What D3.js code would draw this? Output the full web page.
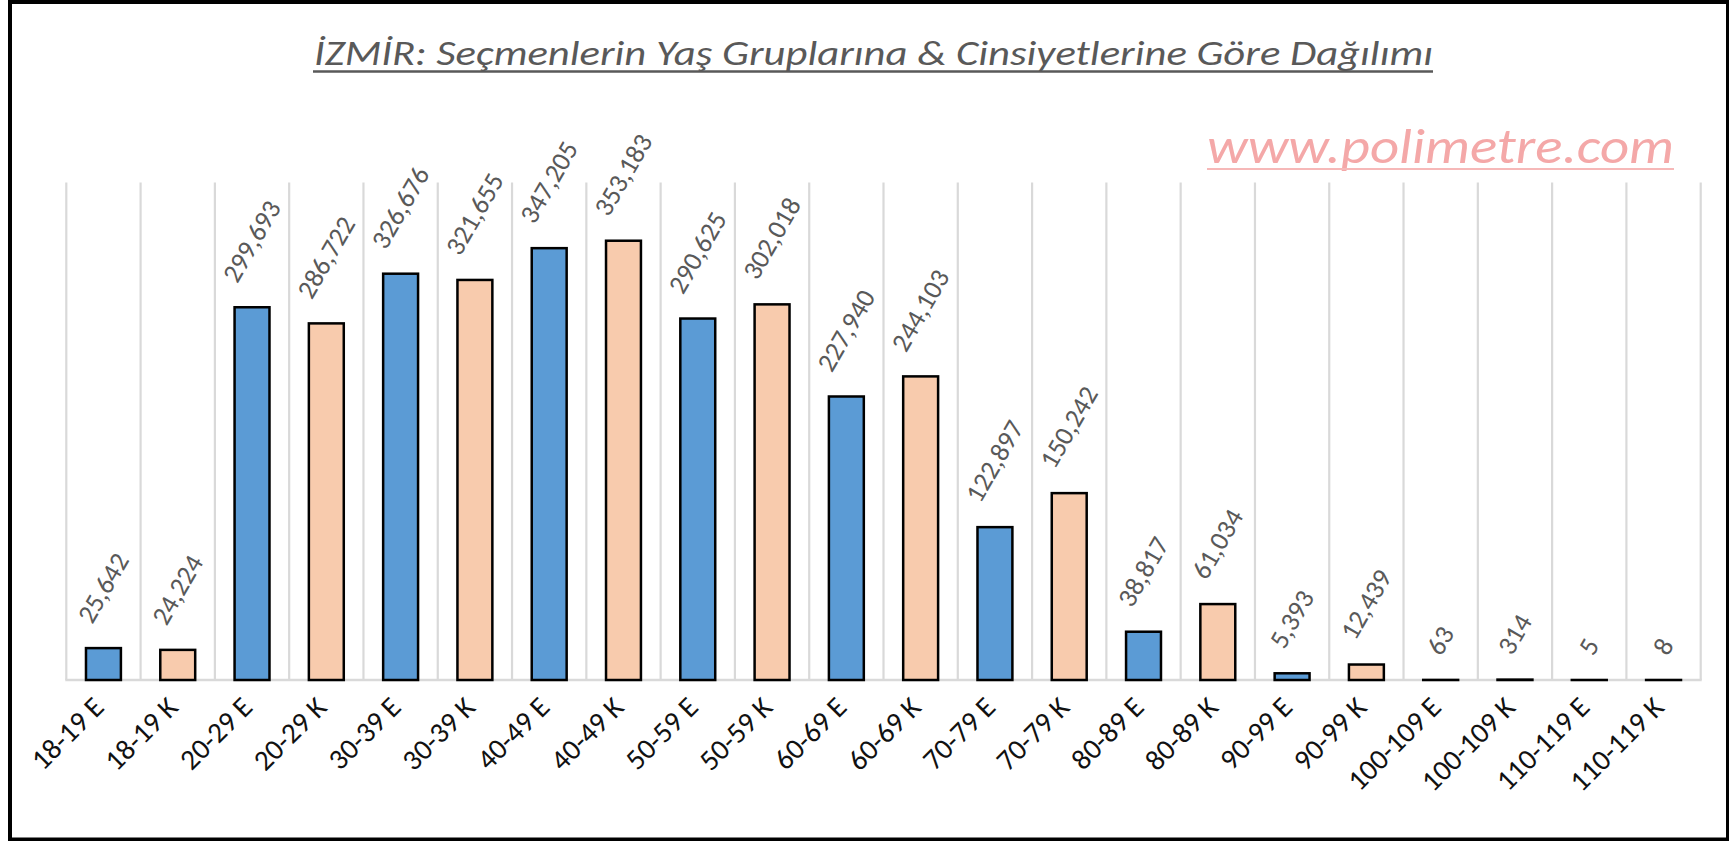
<!DOCTYPE html>
<html>
<head>
<meta charset="utf-8">
<script src="https://cdn.jsdelivr.net/npm/d3@7"></script>
<style>
  html, body { margin: 0; padding: 0; background: #fff; }
  svg { display: block; }
  text { font-family: Carlito, Calibri, "Open Sans", sans-serif; }
</style>
</head>
<body>
<script>
const categories = ["18-19 E","18-19 K","20-29 E","20-29 K","30-39 E","30-39 K","40-49 E","40-49 K","50-59 E","50-59 K","60-69 E","60-69 K","70-79 E","70-79 K","80-89 E","80-89 K","90-99 E","90-99 K","100-109 E","100-109 K","110-119 E","110-119 K"];
const values = [25642,24224,299693,286722,326676,321655,347205,353183,290625,302018,227940,244103,122897,150242,38817,61034,5393,12439,63,314,5,8];
const genderColors = { "E": "#5B9BD5", "K": "#F8CBAD" };
const yDomain = [0, 400000];
const titleText = "İZMİR: Seçmenlerin Yaş Gruplarına & Cinsiyetlerine Göre Dağılımı";
const watermarkText = "www.polimetre.com";

const W = 1729, H = 841;
const svg = d3.select("body").append("svg").attr("width", W).attr("height", H);
svg.append("rect").attr("width", W).attr("height", H).attr("fill", "#fff");

const x = d3.scaleBand().domain(categories).range([66.3, 1700.7]).paddingInner(0.53).paddingOuter(0.265);
const y = d3.scaleLinear().domain(yDomain).range([680, 182.5]);
const baseY = y(0);

// vertical gridlines at category boundaries
const boundaries = categories.map(c => x(c) + x.bandwidth() / 2 - x.step() / 2);
boundaries.push(boundaries[boundaries.length - 1] + x.step());
svg.append("g").selectAll("line").data(boundaries).join("line")
  .attr("x1", d => d).attr("x2", d => d)
  .attr("y1", y(yDomain[1])).attr("y2", baseY)
  .attr("stroke", "#d9d9d9").attr("stroke-width", 2.2);

// baseline
svg.append("line").attr("x1", boundaries[0] - 1).attr("x2", boundaries[boundaries.length - 1] + 1)
  .attr("y1", baseY).attr("y2", baseY).attr("stroke", "#d9d9d9").attr("stroke-width", 2.5);

const data = categories.map((c, i) => ({ c, v: values[i], g: c.trim().slice(-1) }));

// bars
svg.append("g").selectAll("rect").data(data).join("rect")
  .attr("x", d => x(d.c)).attr("width", x.bandwidth())
  .attr("y", d => y(d.v)).attr("height", d => Math.max(0.01, baseY - y(d.v)))
  .attr("fill", d => genderColors[d.g]).attr("stroke", "#000").attr("stroke-width", 2.5);

// value labels
const fmt = d3.format(",");
const vfs = 27;
const cap = 0.644 * vfs;
svg.append("g").selectAll("text").data(data).join("text")
  .attr("font-size", vfs).attr("fill", "#595959").attr("text-anchor", "start")
  .text(d => fmt(d.v))
  .each(function(d) {
    const L = this.getComputedTextLength();
    const cx = x(d.c) + x.bandwidth() / 2;
    const ax = cx - L / 4 + 0.433 * cap;
    const ay = y(d.v) - 23;
    d3.select(this).attr("transform", `translate(${ax},${ay}) rotate(-60)`);
  });

// axis labels
const afs = 29;
svg.append("g").selectAll("text").data(data).join("text")
  .attr("font-size", afs).attr("fill", "#111").attr("text-anchor", "end")
  .attr("transform", d => `translate(${x(d.c) + x.bandwidth() / 2 + 2},709) rotate(-45)`)
  .text(d => d.c);

// title
svg.append("text").attr("x", 873.5).attr("y", 65).attr("text-anchor", "middle")
  .attr("font-size", 34).attr("font-style", "italic").attr("fill", "#595959")
  .attr("textLength", 1119).attr("lengthAdjust", "spacingAndGlyphs")
  .text(titleText);
svg.append("line").attr("x1", 313).attr("x2", 1433).attr("y1", 71.5).attr("y2", 71.5)
  .attr("stroke", "#595959").attr("stroke-width", 2.7);

// watermark
svg.append("text").attr("x", 1207).attr("y", 163).attr("text-anchor", "start")
  .attr("font-size", 49).attr("font-style", "italic").attr("fill", "#F4A8A8")
  .attr("textLength", 467).attr("lengthAdjust", "spacingAndGlyphs")
  .text(watermarkText);
svg.append("line").attr("x1", 1207).attr("x2", 1674).attr("y1", 169).attr("y2", 169)
  .attr("stroke", "#F6B8B8").attr("stroke-width", 2);

// outer frame
svg.append("rect").attr("x", 10).attr("y", 2).attr("width", 1718).attr("height", 837.5)
  .attr("fill", "none").attr("stroke", "#000").attr("stroke-width", 4);
</script>
</body>
</html>
